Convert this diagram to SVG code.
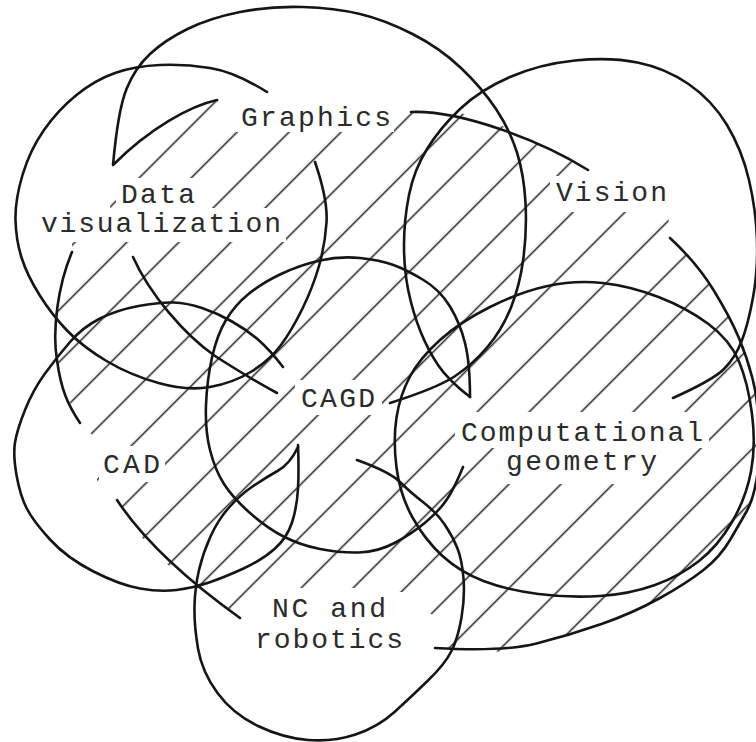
<svg xmlns="http://www.w3.org/2000/svg" width="756" height="742" viewBox="0 0 756 742">
<style>
.o{fill:none;stroke:#151515;stroke-width:2.6;stroke-linecap:round;stroke-linejoin:round}
.t{font-family:"Liberation Mono","DejaVu Sans Mono",monospace;font-size:28px;fill:#2b2b2b}
</style>
<defs>
<pattern id="hp" patternUnits="userSpaceOnUse" width="20" height="36.77" patternTransform="rotate(-45)">
<rect x="0" y="2.8" width="20" height="1.6" fill="#333"/>
</pattern>
<mask id="hm" maskUnits="userSpaceOnUse" x="0" y="0" width="756" height="742">
<polygon fill="#fff" points="113,165 217,100 240,98 400,98 411,112 461,113 505,127 545,147 588,170 552,190 552,212 668,212 670,238 697,263 730,317 747,357 758,400 760,460 753,500 740,523 720,557 687,583 633,613 570,635 503,652 435,648 432,615 410,592 262,592 240,618 197,588 167,564 133,528 117,500 97,482 97,440 82,424 63,390 57,357 55,317 60,287 72,252 72,241 110,208 113,178"/>
<g fill="#000">
<rect x="236" y="98" width="158" height="34"/>
<rect x="116" y="178" width="84" height="31"/>
<rect x="36" y="208" width="250" height="34"/>
<rect x="550" y="176" width="122" height="34"/>
<rect x="295" y="380" width="87" height="35"/>
<rect x="455" y="412" width="254" height="36"/>
<rect x="500" y="446" width="162" height="38"/>
<rect x="99" y="446" width="66" height="36"/>
<rect x="264" y="588" width="128" height="34"/>
<rect x="249" y="620" width="158" height="36"/>
</g>
</mask>
</defs>
<rect width="756" height="742" fill="#fff"/>
<g id="hatching" mask="url(#hm)"><rect width="756" height="742" fill="url(#hp)"/></g>

<g id="graphics">
<path class="o" d="M217,100 C190,106 150,128 113,165 Q118,110 126.5,89 Q135,68 150,54 Q165,40 187.5,29 Q210,18 240,12 Q270,6 302.5,7 Q335,8 360,14 Q385,20 412.5,34 Q440,48 461,68 Q482,88 496,109 Q510,130 517,152.5 Q524,175 525.5,202.5 Q527,230 523.5,257.5 Q520,285 511,307.5 Q502,330 487,347.5 Q472,365 454.5,376.5 Q437,388 390,403"/>
<path class="o" d="M411,112 C460,110 540,140 588,170"/>
<text class="t" x="241" y="126" textLength="150">Graphics</text>
</g>

<g id="data-visualization">
<path class="o" d="M267,92 Q235,72 210,68 Q185,64 160,65 Q135,66 115,73 Q95,80 76.5,95 Q58,110 44,130 Q30,150 22.5,175 Q15,200 15.5,220 Q16,240 21.5,257.5 Q27,275 39.5,295 Q52,315 67.5,331 Q83,347 106.5,361 Q130,375 158.5,383 Q187,391 210,387 Q233,383 251.5,371.5 Q270,360 281,345 Q292,330 302.5,308.5 Q313,287 319,266 Q325,245 326.5,222.5 Q328,200 315,162"/>
<path class="o" d="M133,257 C150,295 185,335 215,356 C240,372 262,385 277,393"/>
<text class="t" x="121" y="203" textLength="74">Data</text>
<text class="t" x="41" y="232" textLength="240">visualization</text>
</g>

<g id="vision">
<path class="o" d="M470,397 Q448,380 438,365 Q428,350 420.5,331.5 Q413,313 408.5,291.5 Q404,270 404,245 Q404,220 409,195 Q414,170 427,149 Q440,128 460,109 Q480,90 510,77 Q540,64 575,60.5 Q610,57 637.5,62.5 Q665,68 688.5,84 Q712,100 727,125 Q742,150 749,180 Q756,210 757,240 Q758,270 753,297.5 Q748,325 741.5,341.5 Q735,358 724,369 Q713,380 673,398"/>
<text class="t" x="556" y="201" textLength="111">Vision</text>
</g>

<g id="cagd">
<path class="o" d="M470,397 Q470,363 465,343 Q460,323 450,306.5 Q440,290 423.5,280 Q407,270 393.5,265 Q380,260 360,258 Q340,256 320,260.5 Q300,265 281,274 Q262,283 248.5,294 Q235,305 226,320 Q217,335 212,357.5 Q207,380 206,405 Q205,430 210,450 Q215,470 224,484 Q233,498 250,513 Q267,528 283.5,536.5 Q300,545 320,549 Q340,553 359,552.5 Q378,552 395.5,542.5 Q413,533 426.5,521.5 Q440,510 447.5,498.5 Q455,487 463,467"/>
<text class="t" x="301" y="407" textLength="74">CAGD</text>
</g>

<g id="computational-geometry">
<path class="o" d="M396.5,467.5 Q393,440 396.5,417.5 Q400,395 410,376.5 Q420,358 440,340 Q460,322 490,307 Q520,292 547.5,286 Q575,280 602.5,283 Q630,286 658.5,297 Q687,308 708.5,324 Q730,340 739,361.5 Q748,383 752,414 Q756,445 751,471.5 Q746,498 732,522 Q718,546 699,561 Q680,576 655,585 Q630,594 600,596 Q570,598 538.5,594 Q507,590 483.5,581 Q460,572 442.5,556 Q425,540 412.5,517.5 Q400,495 396.5,467.5 Z"/>
<path class="o" d="M670,238 Q697,263 713.5,290 Q730,317 738.5,337 Q747,357 752.5,378.5 Q758,400 759,430 Q760,460 756.5,480 Q753,500 746.5,511.5 Q740,523 730,540 Q720,557 703.5,570 Q687,583 660,598 Q633,613 601.5,624 Q570,635 536.5,643.5 Q503,652 435,648"/>
<text class="t" x="461" y="441" textLength="242">Computational</text>
<text class="t" x="506" y="470" textLength="151">geometry</text>
</g>

<g id="cad">
<path class="o" d="M283,367 Q270,350 258.5,340 Q247,330 232,321.5 Q217,313 202,308 Q187,303 173.5,302.5 Q160,302 138.5,306 Q117,310 100,318.5 Q83,327 70,342 Q57,357 45,373.5 Q33,390 25,410 Q17,430 15,442.5 Q13,455 16.5,475 Q20,495 26.5,508 Q33,521 50,539.5 Q67,558 93.5,571.5 Q120,585 140,588.5 Q160,592 176.5,590 Q193,588 209,582.5 Q225,577 243.5,568.5 Q262,560 274.5,549 Q287,538 292,522.5 Q297,507 298,488.5 Q299,470 298,445"/>
<path class="o" d="M72,252 C58,285 52,330 57,360 C61,390 68,405 80,423"/>
<path class="o" d="M117,500 C140,535 180,575 240,618"/>
<text class="t" x="103" y="473" textLength="57">CAD</text>
</g>

<g id="nc-robotics">
<path class="o" d="M298,447 Q290,464 277.5,471 Q265,478 252.5,486.5 Q240,495 229,507.5 Q218,520 210.5,536.5 Q203,553 199,570 Q195,587 194.5,606 Q194,625 198,648.5 Q202,672 217.5,693 Q233,714 258,726 Q283,738 308,740 Q333,742 355.5,734.5 Q378,727 394.5,712 Q411,697 428,680.5 Q445,664 451.5,651 Q458,638 461.5,617.5 Q465,597 463.5,578.5 Q462,560 457.5,548.5 Q453,537 445,525 Q437,513 423.5,502.5 Q410,492 400,482 Q390,472 357,460"/>
<text class="t" x="272" y="617" textLength="114">NC and</text>
<text class="t" x="255" y="648" textLength="148">robotics</text>
</g>
</svg>
